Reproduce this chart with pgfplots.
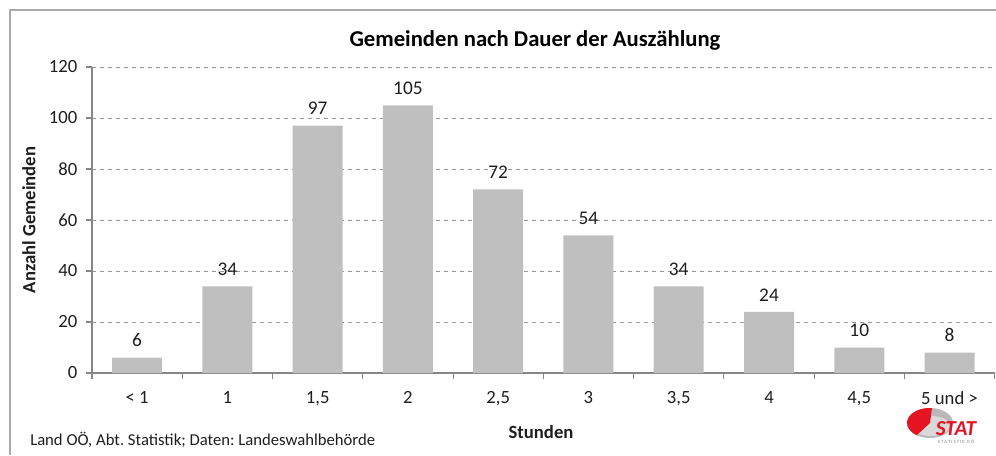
\documentclass[border=0pt]{standalone}
\usepackage{fontspec}
\setmainfont{Carlito}
\usepackage{pgfplots}
\pgfplotsset{compat=1.18}
\definecolor{barg}{RGB}{191,191,191}
\definecolor{axg}{RGB}{134,134,134}
\definecolor{gridg}{RGB}{150,150,150}
\definecolor{txt}{RGB}{30,30,30}
\definecolor{framec}{RGB}{170,170,170}
\definecolor{statred}{RGB}{228,20,35}
\frenchspacing

\begin{document}
\begin{tikzpicture}[x=0.75pt,y=0.75pt]
\useasboundingbox (0,0) rectangle (996,455);
\draw[framec, line width=1.1pt] (10,0) -- (10,445) -- (996,445);
\begin{axis}[
  at={(69pt,61.5pt)}, anchor=south west,
  scale only axis, width=677pt, height=229.5pt,
  xmin=-0.5, xmax=9.5, ymin=0, ymax=120,
  ybar, bar width=37.5pt, bar shift=0pt,
  axis x line*=bottom, axis y line*=left,
  axis line style={axg, line width=0.8pt, -},
  xtick={0,...,9},
  xticklabels={{< 1},1,{1,5},2,{2,5},3,{3,5},4,{4,5},{5 und >}},
  minor xtick={-0.5,0.5,...,9.5},
  major x tick style={draw=none},
  minor x tick style={axg, line width=0.8pt},
  ytick={0,20,...,120},
  y tick style={axg, line width=0.8pt},
  tick align=outside,
  major tick length=4.5pt, minor tick length=4.5pt,
  ymajorgrids, major grid style={gridg, dashed, line width=0.6pt},
  /pgf/number format/assume math mode=true,
  tick label style={font=\fontsize{14}{14}\selectfont, text=txt},
  x tick label style={yshift=-6pt},
  y tick label style={xshift=-3pt},
  nodes near coords,
  every node near coord/.append style={font=\fontsize{14.5}{14.5}\selectfont, text=txt, yshift=4.5pt},
]
\addplot[fill=barg, draw=none] coordinates {(0,6) (1,34) (2,97) (3,105) (4,72) (5,54) (6,34) (7,24) (8,10) (9,8)};
\end{axis}
\node[font=\fontsize{17}{17}\selectfont\bfseries, text=black] at (535,415) {Gemeinden nach Dauer der Auszählung};
\node[font=\fontsize{14}{14}\selectfont\bfseries, text=txt, rotate=90] at (29,235) {Anzahl Gemeinden};
\node[font=\fontsize{14}{14}\selectfont\bfseries, text=txt] at (541,23) {Stunden};
\node[font=\fontsize{12.5}{12.5}\selectfont, text=txt, anchor=west, inner sep=0pt] at (30,15) {Land OÖ, Abt. Statistik; Daten: Landeswahlbehörde};
% logo
\fill[gray!55] (930,32) ellipse [x radius=23, y radius=15];
\fill[gray!30] (931,29) ellipse [x radius=19, y radius=10];
\fill[statred] (930,32) -- (932,47) arc[start angle=85, end angle=235, x radius=23, y radius=15] -- cycle;
\node[font=\fontsize{16}{16}\selectfont\bfseries\itshape, text=statred, inner sep=0pt] at (956,26) {STAT};
\node[font=\fontsize{3.5}{3.5}\selectfont, text=gray, inner sep=0pt] at (956,13) {S T A T I S T I K \ O Ö};
\end{tikzpicture}
\end{document}
